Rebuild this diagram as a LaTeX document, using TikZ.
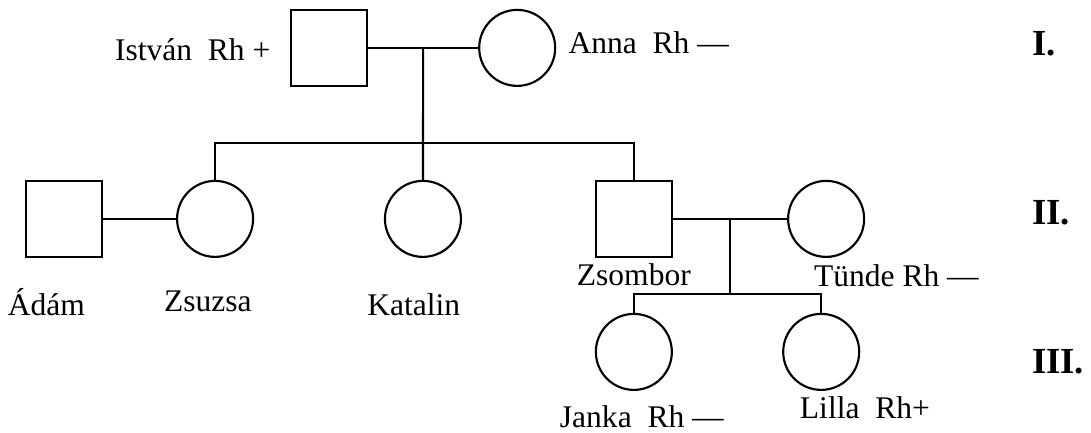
\documentclass[tikz,border=0pt]{standalone}
\usepackage{fontspec}
\setmainfont{Liberation Serif}
\usepackage{tikz}
\usetikzlibrary{calc}
\newcommand{\pmale}[1]{ node[male, name={#1}] {}}
\newcommand{\pfemale}[1]{ node[female, name={#1}] {}}
\tikzset{male/.style={minimum size=2cm, inner sep=0pt, draw}}
\tikzset{female/.style={circle, minimum size=2cm, inner sep=0pt, draw}}
\tikzset{lbl/.style={anchor=base, inner sep=0pt, font=\fontsize{23.6}{28}\selectfont}}
\tikzset{gen/.style={anchor=base west, inner sep=0pt, font=\fontsize{27.5}{32}\selectfont\bfseries}}

\begin{document}
\begin{tikzpicture}[line width=1.6pt]
        \useasboundingbox (0,0) rectangle (28.71,-11.37);

        % generation I
        \draw (8.66,-1.26) \pmale{ist};
        \node (anna) [female, right of=ist, node distance=4.95cm] {};
        \node (istlab) at (5.07,-1.58) [lbl] {István\ \ Rh +};
        \node (annalab) at (17.07,-1.42) [lbl] {Anna\ \ Rh —};
        \draw (ist) -- (anna);
        \coordinate (m1) at ($(ist)!0.5!(anna)$);

        % generation II
        \draw (1.68,-5.76) \pmale{adam};
        \node (zsuzsa) [female, right of=adam, node distance=3.98cm] {};
        \draw (11.13,-5.76) \pfemale{katalin};
        \draw (16.68,-5.76) \pmale{zsombor};
        \node (tunde) [female, right of=zsombor, node distance=5.06cm] {};

        \node (adamlab) at (1.22,-8.29) [lbl] {Ádám};
        \node (zsuzsalab) at (5.47,-8.21) [lbl] {Zsuzsa};
        \node (katalab) at (10.89,-8.29) [lbl] {Katalin};
        \node (zsomblab) at (16.68,-7.50) [lbl] {Zsombor};
        \node (tundelab) at (23.59,-7.55) [lbl] {Tünde Rh —};

        \coordinate (sib) at (11.13,-3.76);
        \draw (m1) -- (katalin);
        \draw (zsuzsa.north) |- (sib) -| (zsombor.north);
        \draw (adam) -- (zsuzsa);
        \draw (zsombor) -- (tunde);
        \coordinate (m2) at ($(zsombor)!0.5!(tunde)$);

        % generation III
        \node (janka) [female, below of=zsombor, node distance=3.5cm] {};
        \draw (21.61,-9.26) \pfemale{lilla};
        \node (jankalab) at (16.89,-11.24) [lbl] {Janka\ \ Rh —};
        \node (lillalab) at (22.76,-11.00) [lbl] {Lilla\ \ Rh+};

        \coordinate (kids) at ($(m2)+(0,-1.98)$);
        \draw (m2) -- (kids);
        \draw (janka.north) |- (kids) -| (lilla.north);

        % generations
        \node (g1) at (27.13,-1.45) [gen] {I.};
        \node (g2) at (27.13,-5.92) [gen] {II.};
        \node (g3) at (27.13,-9.82) [gen] {III.};
\end{tikzpicture}
\end{document}
